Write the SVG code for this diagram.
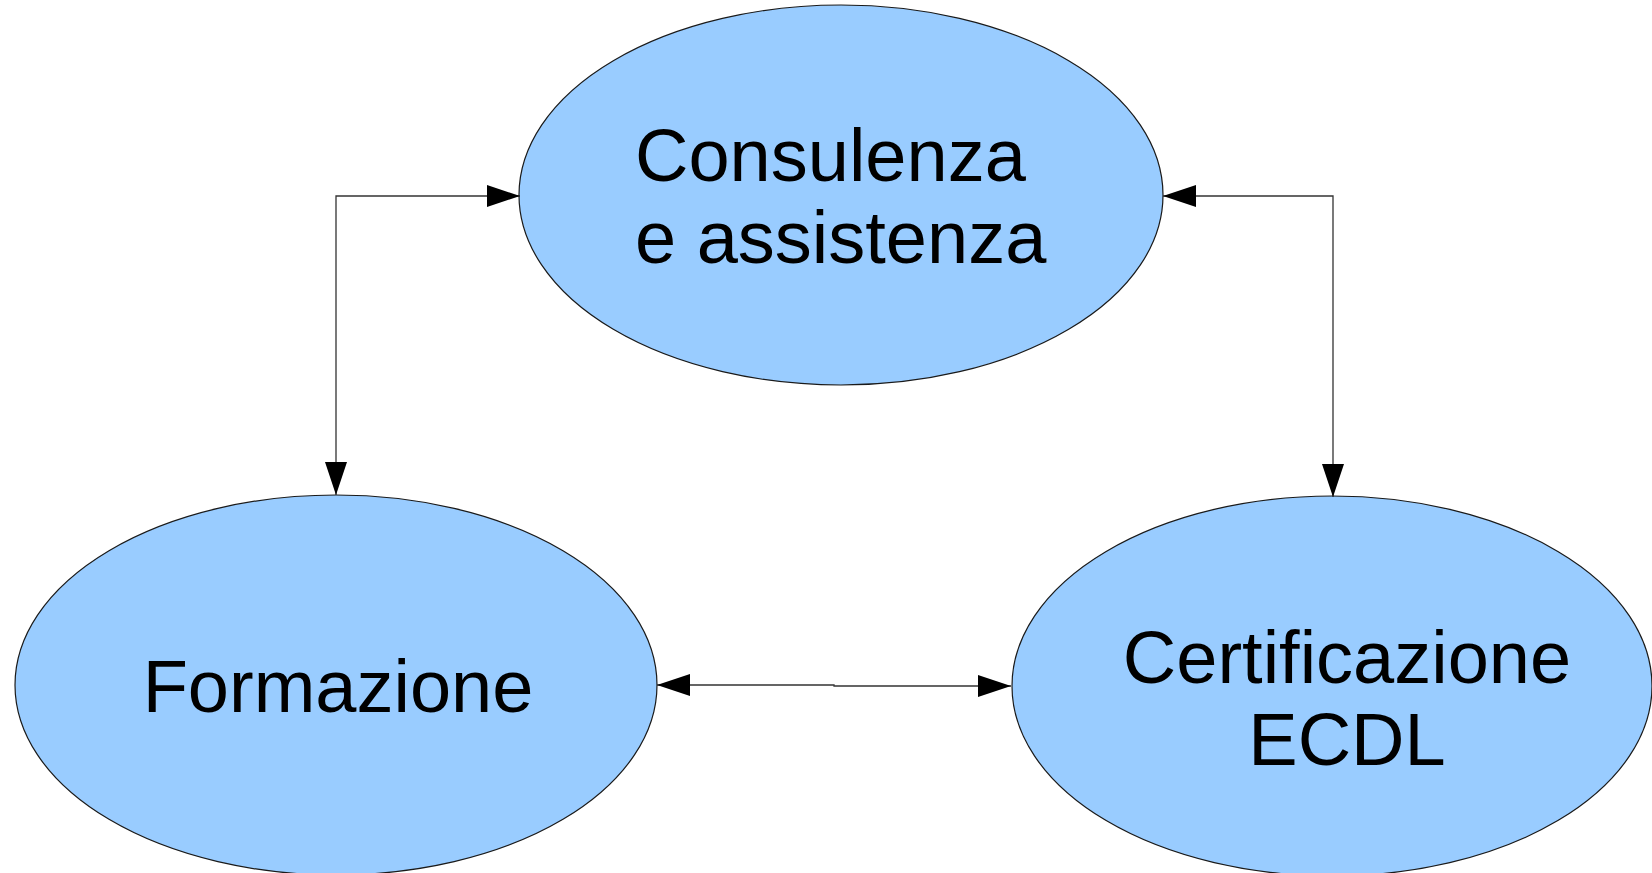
<svg xmlns="http://www.w3.org/2000/svg" width="1652" height="873" viewBox="0 0 1652 873">
<style>
.node{fill:#99ccff;stroke:#1a1a1a;stroke-width:1.2}
.lbl{font-family:"Liberation Sans",Arial,sans-serif;font-size:74px;fill:#000;text-anchor:middle}
.conn{fill:none;stroke:#333;stroke-width:1.3}
</style>
<defs>
<marker id="ah" markerUnits="userSpaceOnUse" markerWidth="34" markerHeight="22" refX="33" refY="11" orient="auto-start-reverse">
<path d="M0,0 L33,11 L0,22 Z" fill="#000"/>
</marker>
</defs>
<rect width="1652" height="873" fill="#fff"/>
<g id="consulenza">
<ellipse class="node" cx="841" cy="195" rx="322" ry="190"/>
<text class="lbl" x="635" y="181" style="text-anchor:start">Consulenza</text>
<text class="lbl" x="635" y="263" style="text-anchor:start">e assistenza</text>
</g>
<g id="formazione">
<ellipse class="node" cx="336" cy="685" rx="321" ry="190"/>
<text class="lbl" x="338" y="712">Formazione</text>
</g>
<g id="certificazione">
<ellipse class="node" cx="1332" cy="686" rx="320" ry="190"/>
<text class="lbl" x="1347" y="683">Certificazione</text>
<text class="lbl" x="1347" y="765">ECDL</text>
</g>
<g id="connectors">
<polyline class="conn" points="520,196 336,196 336,495" marker-start="url(#ah)" marker-end="url(#ah)"/>
<polyline class="conn" points="1163,196 1333,196 1333,497" marker-start="url(#ah)" marker-end="url(#ah)"/>
<polyline class="conn" points="657,685 834,685 834,686 1011,686" marker-start="url(#ah)" marker-end="url(#ah)"/>
</g>
</svg>
